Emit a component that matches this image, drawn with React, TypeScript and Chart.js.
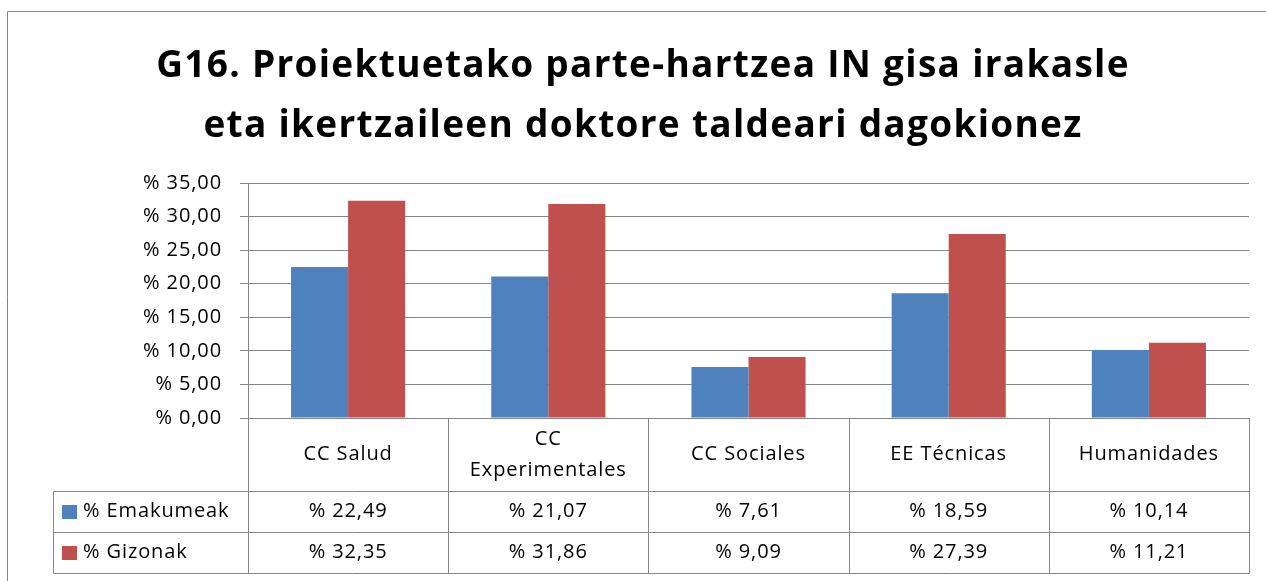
import React, { useEffect, useRef } from "react";
import { Chart, registerables } from "chart.js";

Chart.register(...registerables);

const titleLines = [
  "G16. Proiektuetako parte-hartzea IN gisa irakasle",
  "eta ikertzaileen doktore taldeari dagokionez",
];
const categoryLabels: string[][] = [
  ["CC Salud"],
  ["CC", "Experimentales"],
  ["CC Sociales"],
  ["EE Técnicas"],
  ["Humanidades"],
];
const seriesNames = ["% Emakumeak", "% Gizonak"];
const emakumeak = [22.49, 21.07, 7.61, 18.59, 10.14];
const gizonak = [32.35, 31.86, 9.09, 27.39, 11.21];
const seriesColors = ["#4F81BD", "#C0504D"];
const yTicks = [0, 5, 10, 15, 20, 25, 30, 35];

const W = 1266;
const H = 581;
const FONT = "'Open Sans', Lato, sans-serif";
const LINE = "#868686";

const fmt = (v: number) => "% " + v.toFixed(2).replace(".", ",");

export default function App() {
  const ref = useRef<HTMLCanvasElement | null>(null);

  useEffect(() => {
    const canvas = ref.current;
    if (!canvas) return;

    const framePlugin = {
      id: "frame",
      beforeDraw(chart: any) {
        const ctx = chart.ctx;
        ctx.letterSpacing = "0.9px";
        ctx.save();
        ctx.fillStyle = "#ffffff";
        ctx.fillRect(0, 0, W, H);
        ctx.strokeStyle = LINE;
        ctx.lineWidth = 1;
        ctx.beginPath();
        ctx.moveTo(7.5, H + 5);
        ctx.lineTo(7.5, 11.5);
        ctx.lineTo(W + 5, 11.5);
        ctx.stroke();
        // title
        ctx.fillStyle = "#000";
        ctx.font = `bold 37px ${FONT}`;
        ctx.letterSpacing = "1.3px";
        ctx.textAlign = "center";
        ctx.textBaseline = "alphabetic";
        ctx.fillText(titleLines[0], 643, 77);
        ctx.fillText(titleLines[1], 643, 137);
        ctx.restore();
      },
    };

    const tablePlugin = {
      id: "dataTable",
      afterDraw(chart: any) {
        const ctx = chart.ctx;
        const { left, right, bottom } = chart.chartArea;
        const n = categoryLabels.length;
        const cw = (right - left) / n;
        const legendLeft = 53;
        const headerBottom = bottom + 73;
        const rowH = 41;
        const tableBottom = headerBottom + rowH * seriesNames.length;
        const px = (v: number) => Math.round(v) + 0.5;

        ctx.save();
        ctx.strokeStyle = LINE;
        ctx.lineWidth = 1;
        ctx.beginPath();
        for (let i = 0; i <= n; i++) {
          const x = px(left + i * cw);
          ctx.moveTo(x, bottom);
          ctx.lineTo(x, tableBottom);
        }
        for (let r = 0; r <= seriesNames.length; r++) {
          const y = px(headerBottom + r * rowH);
          ctx.moveTo(legendLeft + 0.5, y);
          ctx.lineTo(px(right), y);
        }
        ctx.moveTo(legendLeft + 0.5, px(headerBottom));
        ctx.lineTo(legendLeft + 0.5, px(tableBottom));
        ctx.stroke();

        ctx.fillStyle = "#000";
        ctx.font = `20px ${FONT}`;
        ctx.letterSpacing = "0.9px";
        ctx.textAlign = "center";
        ctx.textBaseline = "middle";
        const headerMid = (bottom + headerBottom) / 2;
        categoryLabels.forEach((lines, i) => {
          const cx = left + (i + 0.5) * cw;
          const lh = 31;
          lines.forEach((t, k) => {
            const y = headerMid + (k - (lines.length - 1) / 2) * lh;
            ctx.fillText(t, cx, y);
          });
        });

        const rows = [emakumeak, gizonak];
        rows.forEach((vals, r) => {
          const cy = headerBottom + r * rowH + rowH / 2;
          ctx.fillStyle = seriesColors[r];
          ctx.fillRect(62, Math.round(cy - 7), 15, 14);
          ctx.fillStyle = "#000";
          ctx.textAlign = "left";
          ctx.fillText(seriesNames[r], 83, cy);
          ctx.textAlign = "center";
          vals.forEach((v, i) => {
            ctx.fillText(fmt(v), left + (i + 0.5) * cw, cy);
          });
        });
        ctx.restore();
      },
    };

    const chart = new Chart(canvas, {
      type: "bar",
      data: {
        labels: categoryLabels.map((l) => l.join(" ")),
        datasets: [
          {
            label: seriesNames[0],
            data: emakumeak,
            backgroundColor: seriesColors[0],
            categoryPercentage: 0.57,
            barPercentage: 1,
          },
          {
            label: seriesNames[1],
            data: gizonak,
            backgroundColor: seriesColors[1],
            categoryPercentage: 0.57,
            barPercentage: 1,
          },
        ],
      },
      options: {
        responsive: false,
        animation: false,
        layout: { padding: { top: 183, right: 17, bottom: 163, left: 0 } },
        plugins: {
          legend: { display: false },
          title: { display: false },
          tooltip: { enabled: false },
        },
        scales: {
          x: { display: false },
          y: {
            min: 0,
            max: 35,
            afterFit: (s: any) => {
              s.width = 248;
            },
            afterBuildTicks: (s: any) => {
              s.ticks = yTicks.map((v) => ({ value: v }));
            },
            ticks: {
              color: "#000",
              padding: 18,
              font: { family: FONT, size: 20 },
              callback: (v: any) => fmt(Number(v)),
            },
            grid: { color: LINE, lineWidth: 1, tickLength: 8, drawTicks: true },
            border: { color: LINE, width: 1 },
          },
        },
      },
      plugins: [framePlugin, tablePlugin],
    });

    return () => chart.destroy();
  }, []);

  return (
    <div style={{ position: "fixed", left: 0, top: 0, width: W, height: H, background: "#fff" }}>
      <canvas ref={ref} width={W} height={H} style={{ display: "block" }} />
    </div>
  );
}
